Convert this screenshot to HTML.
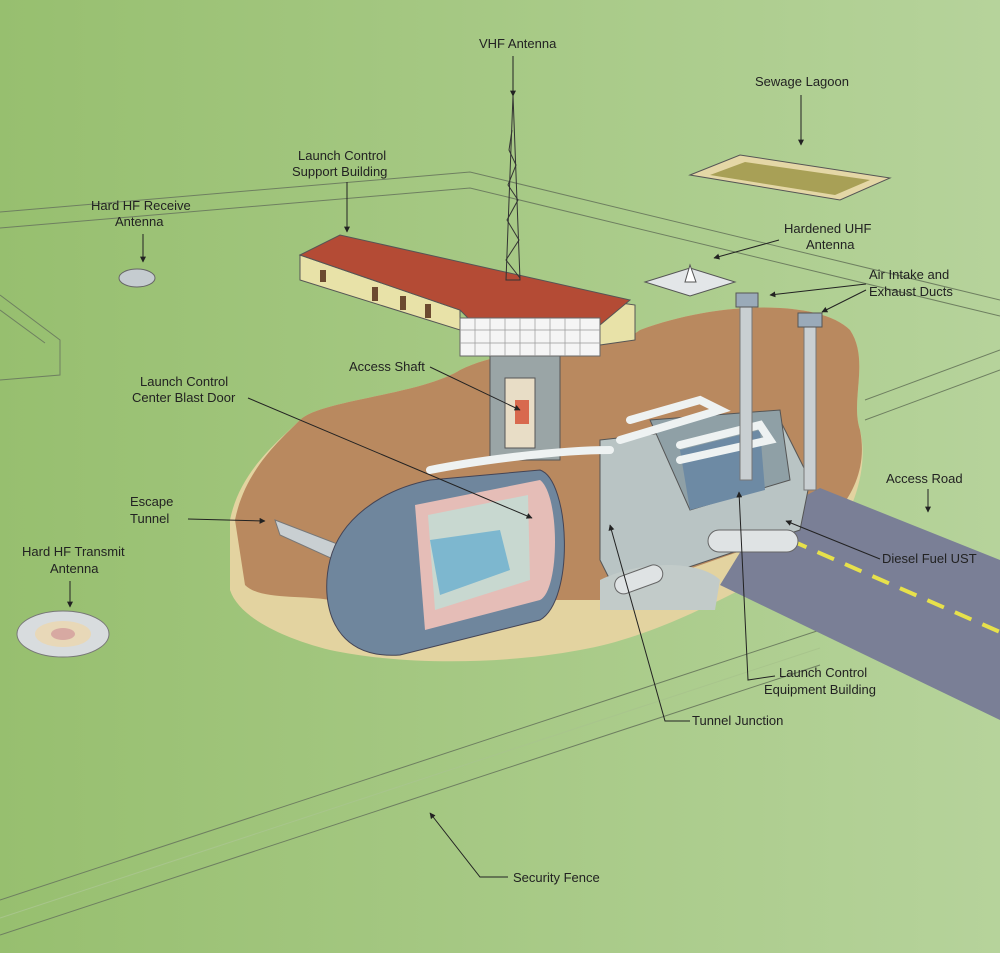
<!DOCTYPE html>
<html><head><meta charset="utf-8"><style>
html,body{margin:0;padding:0}
body{width:1000px;height:953px;overflow:hidden}
svg text{font-family:"Liberation Sans",sans-serif;font-size:13px;fill:#222}
</style></head><body>
<svg width="1000" height="953" viewBox="0 0 1000 953">
<defs>
<linearGradient id="bg" x1="0" x2="1" y1="0" y2="0"><stop offset="0" stop-color="#97bf6f"/><stop offset="1" stop-color="#b6d39b"/></linearGradient>
<marker id="ar" viewBox="0 0 10 10" refX="9" refY="5" markerWidth="6" markerHeight="6" orient="auto"><path d="M0,0L10,5L0,10z" fill="#222"/></marker>
</defs>
<rect width="1000" height="953" fill="url(#bg)"/>
<!-- fences -->
<g fill="none" stroke="#6e7f60" stroke-width="1">
<path d="M0,212 L470,172 L1000,300"/><path d="M0,228 L470,188 L1000,316"/>
<path d="M0,295 L60,340 L60,375 L0,380"/><path d="M0,310 L45,343"/>
<path d="M865,400 L1000,350"/><path d="M865,420 L1000,370"/>
<path d="M0,900 L820,630"/><path d="M0,935 L820,665"/>
<path d="M0,918 L820,648" stroke="#a8c58c"/>
</g>
<!-- excavation -->
<path d="M230,520 C240,470 280,440 300,420 C320,400 420,395 460,370 C520,340 600,360 640,330 C720,300 820,300 850,330 C870,360 850,400 860,430 C870,470 850,520 830,540 L740,590 C700,610 640,640 580,650 C500,665 400,665 330,650 C290,640 240,620 230,590 Z" fill="#e3d3a0"/>
<path d="M235,520 C245,470 280,440 300,420 C320,400 420,395 460,370 C520,340 600,360 640,330 C720,300 820,300 850,330 C870,360 850,400 860,430 C868,470 850,500 830,520 L600,600 L330,600 C300,595 260,600 245,585 Z" fill="#b9895f"/>
<!-- road -->
<path d="M820,488 L1000,560 L1000,720 L720,585 L760,520 Z" fill="#7a7f96"/>
<path d="M790,540 L1000,632" stroke="#e7e14b" stroke-width="4" stroke-dasharray="18,12"/>
<!-- shaft -->
<rect x="490" y="350" width="70" height="110" fill="#9aa5a6" stroke="#555" stroke-width="1"/>
<rect x="505" y="378" width="30" height="70" fill="#e8ddc6" stroke="#555"/>
<rect x="515" y="400" width="14" height="24" fill="#d8694e"/>
<!-- equipment building -->
<path d="M600,440 L780,420 L810,480 L800,530 L680,570 L620,600 L600,560 Z" fill="#b9c4c4" stroke="#555"/>
<path d="M650,420 L780,410 L790,480 L690,510 Z" fill="#8fa0a6" stroke="#555"/>
<path d="M680,450 L760,430 L765,490 L690,510 Z" fill="#6d8aa4"/>
<g fill="none" stroke="#eef2f2" stroke-width="8" stroke-linecap="round"><path d="M620,440 L720,410 L700,400 L630,420"/><path d="M680,460 L770,440 L760,425 L680,445"/><path d="M430,470 C480,460 560,450 610,450"/></g>
<path d="M600,580 C640,560 700,560 720,580 L715,610 L600,610 Z" fill="#c2cbc9"/>
<rect x="740" y="300" width="12" height="180" fill="#c9cfd2" stroke="#777"/>
<rect x="804" y="320" width="12" height="170" fill="#c9cfd2" stroke="#777"/>
<rect x="736" y="293" width="22" height="14" fill="#9aaab9" stroke="#555"/>
<rect x="798" y="313" width="24" height="14" fill="#9aaab9" stroke="#555"/>
<rect x="708" y="530" width="90" height="22" rx="11" fill="#dfe3e4" stroke="#666"/>
<rect x="614" y="570" width="50" height="18" rx="9" fill="#dfe3e4" stroke="#666" transform="rotate(-20 640 580)"/>
<path d="M275,520 L340,545 L335,560 L280,535 Z" fill="#c9cfd2" stroke="#777"/>
<!-- capsule -->
<path d="M430,480 L540,470 C570,480 575,600 540,620 L400,655 C330,660 320,600 330,560 C340,520 380,490 430,480 Z" fill="#6f869d" stroke="#445"/>
<path d="M415,505 L540,480 C560,495 560,590 540,600 L425,630 Z" fill="#e5bdb7"/>
<path d="M428,515 L528,495 L530,580 L435,610 Z" fill="#c8d8d0"/>
<path d="M430,540 L500,530 L510,570 L440,595 Z" fill="#7db7cf"/>
<!-- support building -->
<path d="M300,255 L460,310 L460,330 L300,280 Z" fill="#e8e2a8" stroke="#555"/>
<g fill="#6b4a30"><rect x="320" y="270" width="6" height="12"/><rect x="372" y="287" width="6" height="14"/><rect x="400" y="296" width="6" height="14"/><rect x="425" y="304" width="6" height="14"/></g>
<path d="M600,300 L635,305 L635,340 L600,345 Z" fill="#e8e2a8" stroke="#555"/>
<path d="M300,255 L340,235 L630,300 L600,325 L470,320 L460,310 Z" fill="#b44b35" stroke="#555"/>
<rect x="460" y="318" width="140" height="38" fill="#f5f5f5" stroke="#666"/>
<g stroke="#999" stroke-width="0.7"><path d="M460,330H600M460,343H600M475,318V356M490,318V356M505,318V356M520,318V356M535,318V356M550,318V356M565,318V356M580,318V356"/></g>
<!-- tower -->
<path d="M513,95 L506,280 L520,280 Z" fill="none" stroke="#333"/>
<path d="M512,130 L509,150 L516,165 L508,185 L518,200 L507,220 L519,240 L506,260 L520,278" fill="none" stroke="#333"/>
<path d="M690,175 L740,155 L890,178 L840,200 Z" fill="#e4d7a6" stroke="#555"/>
<path d="M710,175 L745,162 L870,180 L835,195 Z" fill="#a8a056"/>
<path d="M645,282 L690,268 L735,282 L690,296 Z" fill="#e3e6e8" stroke="#555"/>
<path d="M685,282 L690,265 L696,282 Z" fill="#fff" stroke="#555"/>
<ellipse cx="137" cy="278" rx="18" ry="9" fill="#c5ccd0" stroke="#666"/>
<ellipse cx="63" cy="634" rx="46" ry="23" fill="#d8dcde" stroke="#777"/>
<ellipse cx="63" cy="634" rx="28" ry="13" fill="#e8d8b8"/>
<ellipse cx="63" cy="634" rx="12" ry="6" fill="#d7a9a2"/>
<!-- labels -->
<text x="479" y="48">VHF Antenna</text>
<text x="755" y="86">Sewage Lagoon</text>
<text x="298" y="160">Launch Control</text><text x="292" y="176">Support Building</text>
<text x="91" y="210">Hard HF Receive</text><text x="115" y="226">Antenna</text>
<text x="784" y="233">Hardened UHF</text><text x="806" y="249">Antenna</text>
<text x="869" y="279">Air Intake and</text><text x="869" y="296">Exhaust Ducts</text>
<text x="349" y="371">Access Shaft</text>
<text x="140" y="386">Launch Control</text><text x="132" y="402">Center Blast Door</text>
<text x="886" y="483">Access Road</text>
<text x="130" y="506">Escape</text><text x="130" y="523">Tunnel</text>
<text x="882" y="563">Diesel Fuel UST</text>
<text x="22" y="556">Hard HF Transmit</text><text x="50" y="573">Antenna</text>
<text x="779" y="677">Launch Control</text><text x="764" y="694">Equipment Building</text>
<text x="692" y="725">Tunnel Junction</text>
<text x="513" y="882">Security Fence</text>
<g stroke="#222" stroke-width="1" fill="none" marker-end="url(#ar)">
<path d="M513,56 L513,96"/><path d="M801,95 L801,145"/><path d="M347,182 L347,232"/>
<path d="M143,234 L143,262"/><path d="M779,240 L714,258"/><path d="M866,284 L770,295"/>
<path d="M866,290 L822,312"/><path d="M430,367 L520,410"/><path d="M248,398 L532,518"/>
<path d="M188,519 L265,521"/><path d="M880,559 L786,521"/><path d="M70,581 L70,607"/>
<path d="M775,676 L748,680 L739,492"/><path d="M690,721 L665,721 L610,525"/>
<path d="M928,489 L928,512"/><path d="M508,877 L480,877 L430,813"/>
</g>
</svg>
</body></html>
